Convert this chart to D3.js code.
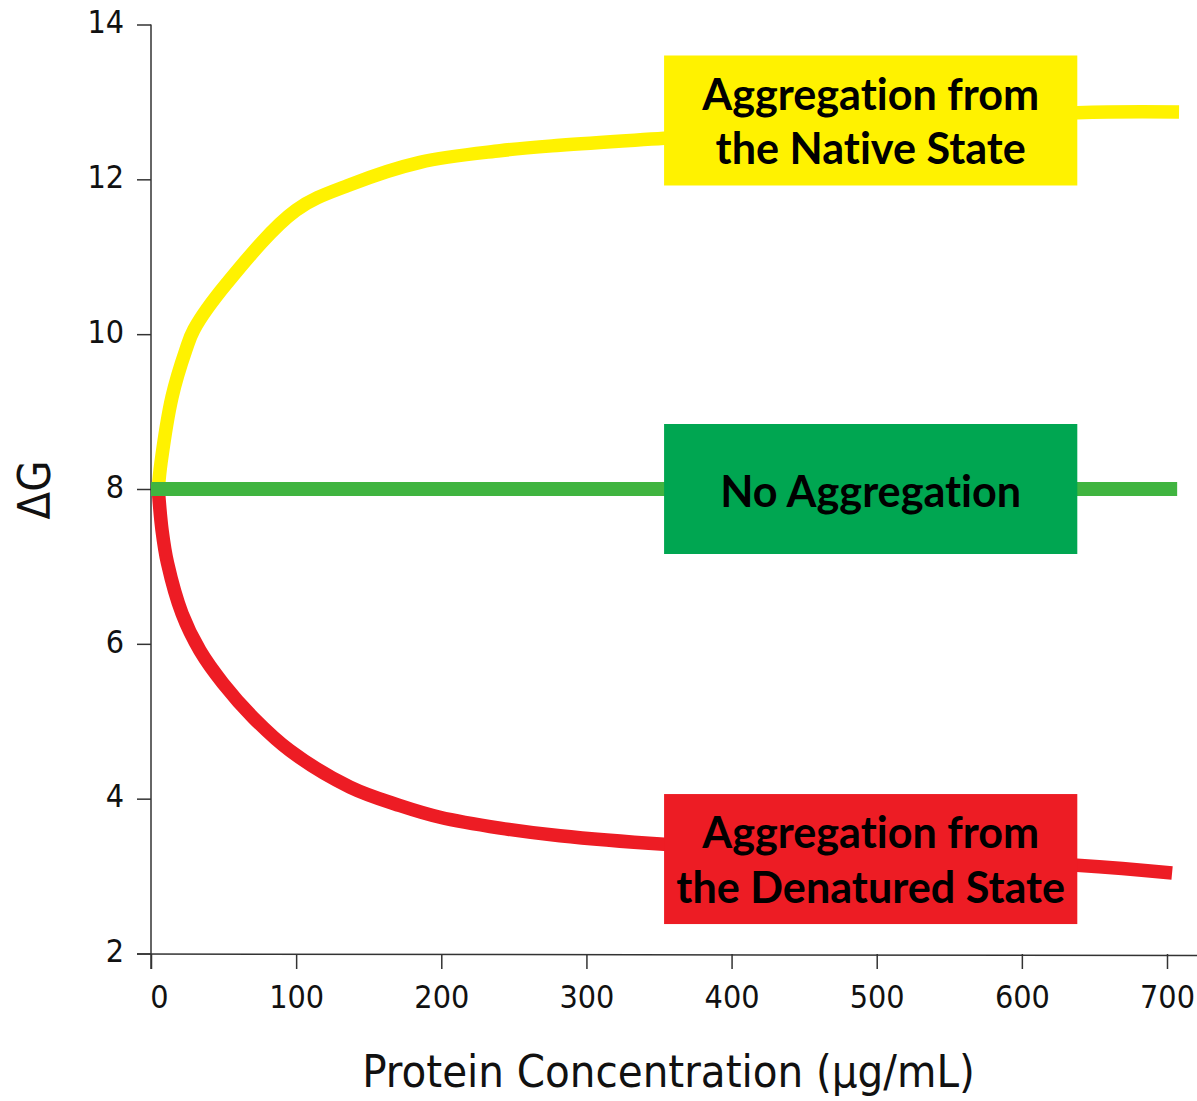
<!DOCTYPE html>
<html>
<head>
<meta charset="utf-8">
<script src="https://cdn.jsdelivr.net/npm/d3@7"></script>
<style>
  html, body { margin: 0; padding: 0; background: #ffffff; }
  svg { display: block; }
  .tick text { font-family: "DejaVu Sans Condensed", "DejaVu Sans", sans-serif; font-stretch: condensed; fill: #111111; }
  .boxlabel { font-variant-ligatures: none; font-feature-settings: "liga" 0, "clig" 0; }
</style>
</head>
<body>
<svg id="chart" width="1197" height="1101"></svg>
<script>
// ---- Data ----
const xTicks = [0, 100, 200, 300, 400, 500, 600, 700];
const yTicks = [2, 4, 6, 8, 10, 12, 14];

const nativeX = [5, 6.9, 14.5, 24.1, 29.6, 52.4, 99.9, 137.1, 185.3, 240.5, 281.8, 353.5, 638, 708.3];
const nativeY = [8.0, 8.34, 9.19, 9.80, 10.06, 10.66, 11.60, 11.93, 12.22, 12.37, 12.44, 12.53, 12.86, 12.87];

const denatX = [5, 7.6, 11.4, 21.4, 33.8, 49.6, 70.3, 95.8, 137.1, 171.6, 199.1, 240.5, 281.8, 353.5, 638, 703.5];
const denatY = [8.0, 7.47, 7.04, 6.39, 5.91, 5.49, 5.05, 4.62, 4.15, 3.91, 3.76, 3.62, 3.52, 3.41, 3.14, 3.04];

const noAggX = [0, 707];
const noAggY = [8, 8];

const labelNames = ["native", "none", "denatured"];
const labelLines = [["Aggregation from", "the Native State"], ["No Aggregation"], ["Aggregation from", "the Denatured State"]];
const labelX0 = [353.5, 353.5, 353.5];
const labelX1 = [638.2, 638.2, 638.2];
const labelYc = [12.76, 8.0, 3.22];

const xTitle = "Protein Concentration (\u03BCg/mL)";
const yTitle = "\u0394G";

// ---- Styles ----
const colNative = "#FFF200";
const colNone = "#40B440";
const colNoneBox = "#00A651";
const colDenat = "#ED1C24";
const boxFills = [colNative, colNoneBox, colDenat];
const axisCol = "#333333";
const labelFont = "Lato, 'Open Sans', sans-serif";
const labelSize = 44;

const svg = d3.select("#chart");
const x = d3.scaleLinear().domain([0, 700]).range([151, 1167]);
const y = d3.scaleLinear().domain([2, 14]).range([953.5, 24.5]);

// axes
const yAxis = d3.axisLeft(y).tickValues(yTicks).tickSize(14).tickPadding(13).tickFormat(d3.format("d"));
const gy = svg.append("g").attr("transform", "translate(151,0)").call(yAxis);
gy.select(".domain").remove();
gy.selectAll(".tick line").attr("stroke", axisCol).attr("stroke-width", 1.5);
gy.selectAll(".tick text").style("font-size", "32px").attr("dy", "0.26em");

const xAxis = d3.axisBottom(x).tickValues(xTicks).tickSize(15).tickPadding(16).tickFormat(d3.format("d"));
const gx = svg.append("g").attr("transform", "translate(0,954)").call(xAxis);
gx.select(".domain").remove();
gx.selectAll(".tick line").attr("stroke", axisCol).attr("stroke-width", 1.5);
gx.selectAll(".tick text").style("font-size", "32px")
  .attr("dx", d => d === 0 ? 8 : 0);

// axis lines
svg.append("line").attr("x1", x(0)).attr("x2", x(0)).attr("y1", y(14)).attr("y2", 969)
  .attr("stroke", axisCol).attr("stroke-width", 1.5);
svg.append("line").attr("x1", x(0) - 14).attr("x2", 1197).attr("y1", 954).attr("y2", 955.5)
  .attr("stroke", axisCol).attr("stroke-width", 1.5);

// curves
const line = d3.line().x(d => x(d[0])).y(d => y(d[1])).curve(d3.curveCatmullRom.alpha(0.5));
const nativePts = nativeX.map((v, i) => [v, nativeY[i]]);
const denatPts = denatX.map((v, i) => [v, denatY[i]]);
const nonePts = noAggX.map((v, i) => [v, noAggY[i]]);

svg.append("path").datum(nativePts).attr("d", line).attr("fill", "none")
  .attr("stroke", colNative).attr("stroke-width", 13.5);
svg.append("path").datum(denatPts).attr("d", line).attr("fill", "none")
  .attr("stroke", colDenat).attr("stroke-width", 13.5);
svg.append("path").datum(nonePts).attr("d", d3.line().x(d => x(d[0])).y(d => y(d[1]))).attr("fill", "none")
  .attr("stroke", colNone).attr("stroke-width", 14);

// label boxes
const boxH = 130;
const lineGap = 54.5;
const gl = svg.append("g");

// measure natural width of the first label line to derive a horizontal squeeze
const probe = gl.append("text").attr("class", "boxlabel")
  .style("font-family", labelFont)
  .style("font-weight", 700).style("font-size", labelSize + "px").text(labelLines[0][0]);
const k = Math.min(1, 337 / probe.node().getComputedTextLength());
probe.remove();

labelNames.forEach((name, i) => {
  const x0 = x(labelX0[i]), x1 = x(labelX1[i]);
  const yc = y(labelYc[i]);
  gl.append("rect").attr("x", x0).attr("y", yc - boxH / 2).attr("width", x1 - x0).attr("height", boxH)
    .attr("fill", boxFills[i]);
  const lines = labelLines[i];
  const n = lines.length;
  lines.forEach((t, j) => {
    const by = n === 1 ? 17.5 : 16.5 + (j - 0.5) * lineGap;
    gl.append("text").attr("class", "boxlabel")
      .attr("transform", `translate(${(x0 + x1) / 2},${yc + by}) scale(${k},1)`)
      .attr("text-anchor", "middle")
      .style("font-family", labelFont)
      .style("font-weight", 700)
      .style("font-size", labelSize + "px")
      .attr("fill", "#000")
      .text(t);
  });
});

// titles
svg.append("text").attr("x", 668.5).attr("y", 1087).attr("text-anchor", "middle")
  .style("font-family", "'DejaVu Sans Condensed', 'DejaVu Sans', sans-serif")
  .style("font-stretch", "condensed")
  .style("font-size", "45px").attr("fill", "#111111").text(xTitle);
svg.append("text").attr("transform", "translate(50,490) rotate(-90)").attr("text-anchor", "middle")
  .style("font-family", "'DejaVu Sans Condensed', 'DejaVu Sans', sans-serif")
  .style("font-stretch", "condensed")
  .style("font-size", "45px").attr("fill", "#111111").text(yTitle);
</script>
</body>
</html>
